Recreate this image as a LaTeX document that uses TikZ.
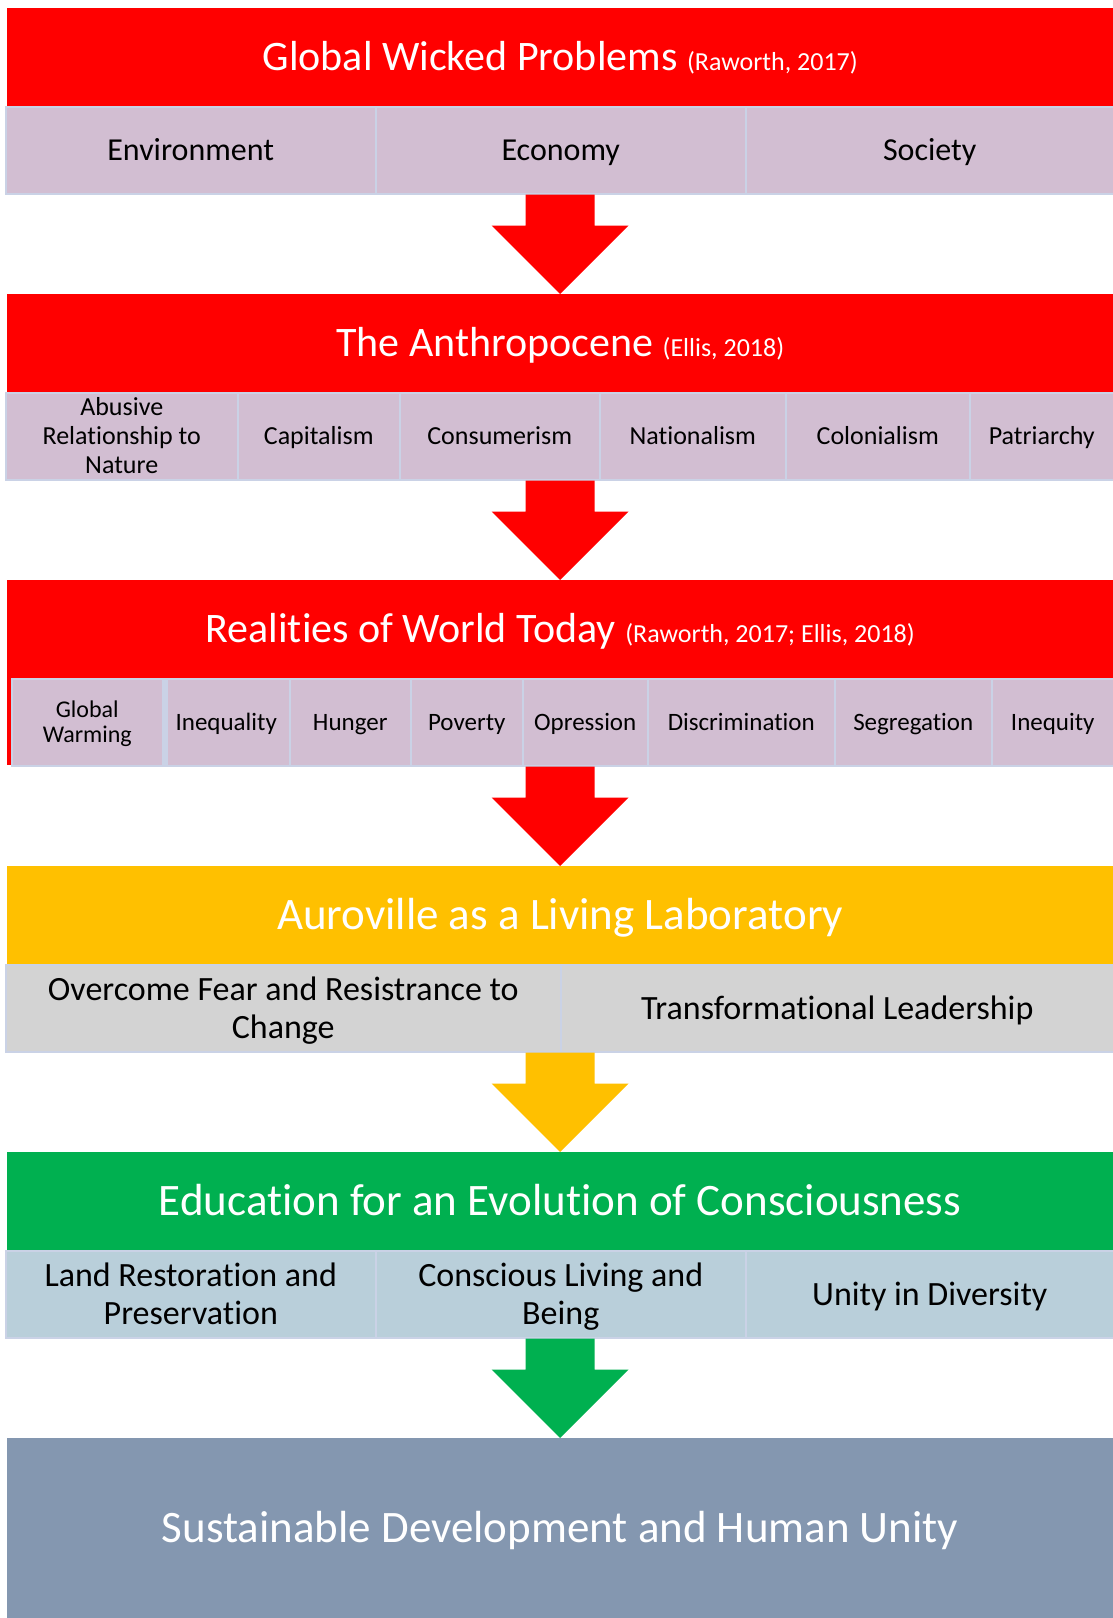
\documentclass[tikz,border=0pt]{standalone}
\usepackage{fontspec}
\setmainfont{Carlito}[Ligatures=NoCommon]
\usepackage{xcolor}
\usetikzlibrary{calc}

\definecolor{wred}{HTML}{FF0000}
\definecolor{wyellow}{HTML}{FFC000}
\definecolor{wgreen}{HTML}{00B050}
\definecolor{wslate}{HTML}{8497B0}
\definecolor{wmauve}{HTML}{D2BED2}
\definecolor{wgray}{HTML}{D3D3D3}
\definecolor{wblue}{HTML}{B9CFDA}
\definecolor{cellline}{HTML}{CAD2E6}

\newcommand{\fsize}[2]{\fontsize{#1}{#2}\selectfont}
\newcommand{\cstrut}{\rule[-0.33em]{0pt}{1.3em}}
\newcommand{\topstrut}{\rule{0pt}{0.82em}}
\newcommand{\botstrut}{\rule[-0.18em]{0pt}{0.18em}}
% block arrow: colour, top point, target node
\newcommand{\blockarrow}[3]{%
  \fill[#1] ($(#2)+(-34.5,0)$) -- ($(#2)+(34.5,0)$) -- ($(#2)+(34.5,31)$) -- ($(#2)+(68.5,31)$)
    -- (#3.north) -- ($(#2)+(-68.5,31)$) -- ($(#2)+(-34.5,31)$) -- cycle;}

\begin{document}
\begin{tikzpicture}[x=1pt, y=-1pt,
  head/.style={rectangle, inner sep=0pt, anchor=north west, minimum width=1106pt, minimum height=98pt, text=white, font=\fsize{42}{50}, execute at begin node=\cstrut},
  cell/.style={rectangle, draw=cellline, line width=1.5pt, inner sep=0pt, anchor=north west, minimum height=87pt, align=center, text=black},
  probcell/.style={cell, fill=wmauve},
  livecell/.style={cell, fill=wgray, font=\fsize{34}{38}},
  educell/.style={cell, fill=wblue, font=\fsize{34}{38}}]
	\fill[white] (0,0) rectangle (1113,1618);
	\useasboundingbox (0,0) rectangle (1113,1618);

	% global wicked problems
	\node[head, fill=wred] at (7,8)(h1){Global Wicked Problems {\fsize{26}{30}(Raworth, 2017)}};
	\node[probcell, font=\fsize{32}{36}, minimum width=370pt] at (5,106)(env){\cstrut Environment};
	\node[probcell, font=\fsize{32}{36}, minimum width=370pt] at (375,106)(eco){\cstrut Economy};
	\node[probcell, font=\fsize{32}{36}, minimum width=368pt] at (745,106)(soc){\cstrut Society};

	% anthropocene
	\node[head, fill=wred] at (7,294)(h2){The Anthropocene {\fsize{26}{30}(Ellis, 2018)}};
	\node[probcell, font=\fsize{26}{29}, minimum width=232pt] at (5,392)(abuse){\topstrut Abusive\\Relationship to\\Nature\botstrut};
	\node[probcell, font=\fsize{26}{29}, minimum width=162pt] at (237,392)(capit){\cstrut Capitalism};
	\node[probcell, font=\fsize{26}{29}, minimum width=200pt] at (399,392)(consum){\cstrut Consumerism};
	\node[probcell, font=\fsize{26}{29}, minimum width=186pt] at (599,392)(nation){\cstrut Nationalism};
	\node[probcell, font=\fsize{26}{29}, minimum width=184pt] at (785,392)(colon){\cstrut Colonialism};
	\node[probcell, font=\fsize{26}{29}, minimum width=144pt] at (969,392)(patri){\cstrut Patriarchy};

	% realities of world today
	\node[head, fill=wred] at (7,580)(h3){Realities of World Today {\fsize{26}{30}(Raworth, 2017; Ellis, 2018)}};
	\fill[wred] (h3.south west) rectangle ($(h3.south west)+(5,87)$);
	\node[probcell, font=\fsize{24}{25}, minimum width=151pt] at (11,678)(warm){\topstrut Global\\Warming\botstrut};
	\node[probcell, font=\fsize{25}{28}, minimum width=127pt] at (162,678)(inequal){\cstrut Inequality};
	\node[probcell, font=\fsize{25}{28}, minimum width=121pt] at (289,678)(hunger){\cstrut Hunger};
	\node[probcell, font=\fsize{25}{28}, minimum width=112pt] at (410,678)(pov){\cstrut Poverty};
	\node[probcell, font=\fsize{25}{28}, minimum width=125pt] at (522,678)(opp){\cstrut Opression};
	\node[probcell, font=\fsize{25}{28}, minimum width=187pt] at (647,678)(discr){\cstrut Discrimination};
	\node[probcell, font=\fsize{25}{28}, minimum width=157pt] at (834,678)(segr){\cstrut Segregation};
	\node[probcell, font=\fsize{25}{28}, minimum width=122pt] at (991,678)(inequit){\cstrut Inequity};
	\draw[cellline, line width=5pt] ($(warm.north east)+(1.5,0)$) -- ($(warm.south east)+(1.5,0)$);

	% auroville
	\node[head, fill=wyellow, font=\fsize{45}{52}] at (7,866)(h4){Auroville as a Living Laboratory};
	\node[livecell, minimum width=555pt] at (5,964)(fear){\topstrut Overcome Fear and Resistrance to\\Change\botstrut};
	\node[livecell, minimum width=553pt] at (560,964)(lead){\cstrut Transformational Leadership};

	% education
	\node[head, fill=wgreen, font=\fsize{45}{52}] at (7,1152)(h5){Education for an Evolution of Consciousness};
	\node[educell, minimum width=370pt] at (5,1250)(land){\topstrut Land Restoration and\\Preservation\botstrut};
	\node[educell, minimum width=370pt] at (375,1250)(being){\topstrut Conscious Living and\\Being\botstrut};
	\node[educell, minimum width=368pt] at (745,1250)(unity){\cstrut Unity in Diversity};

	% outcome
	\node[head, fill=wslate, minimum height=180pt, font=\fsize{45}{52}] at (7,1438)(h6){Sustainable Development and Human Unity};

	% arrows
	\coordinate (a1) at (h1.south |- env.south);
	\coordinate (a2) at (h2.south |- capit.south);
	\coordinate (a3) at (h3.south |- warm.south);
	\coordinate (a4) at (h4.south |- fear.south);
	\coordinate (a5) at (h5.south |- land.south);
	\blockarrow{wred}{a1}{h2}
	\blockarrow{wred}{a2}{h3}
	\blockarrow{wred}{a3}{h4}
	\blockarrow{wyellow}{a4}{h5}
	\blockarrow{wgreen}{a5}{h6}
\end{tikzpicture}
\end{document}
